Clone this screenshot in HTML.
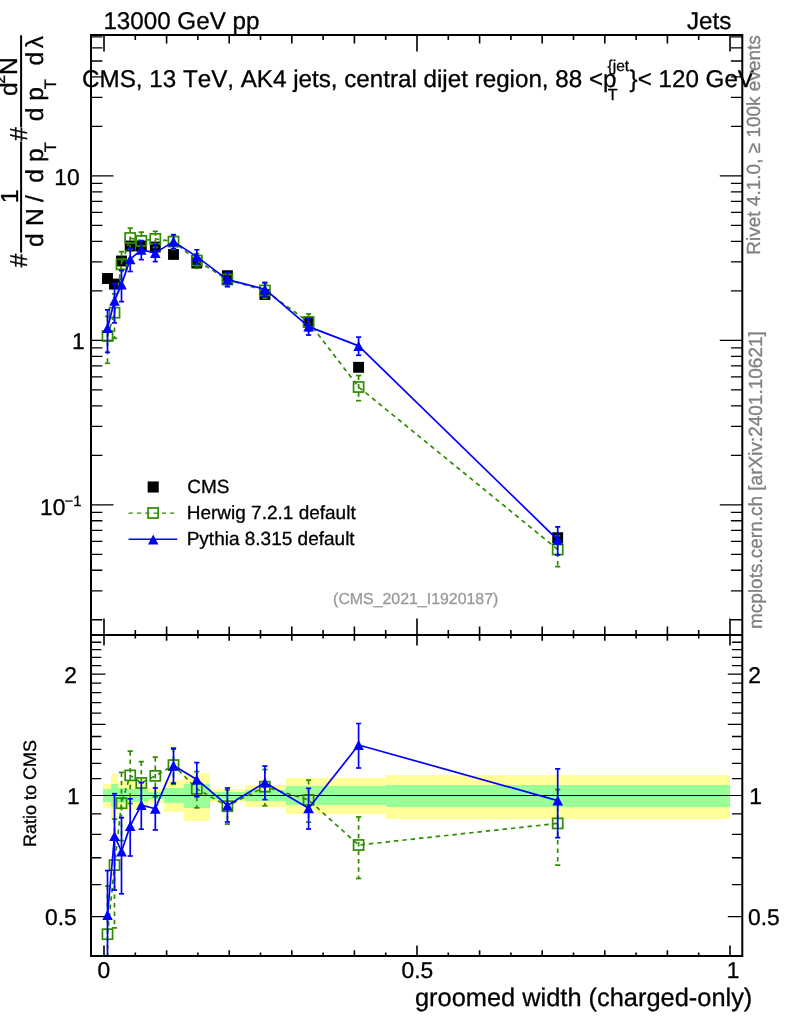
<!DOCTYPE html>
<html lang="en"><head><meta charset="utf-8"><title>groomed width (charged-only)</title>
<style>html,body{margin:0;padding:0;background:#fff}svg{display:block}text{white-space:pre;font-kerning:none;font-variant-ligatures:none;text-rendering:geometricPrecision}</style></head>
<body>
<svg width="786" height="1024" viewBox="0 0 786 1024">
<rect width="786" height="1024" fill="#fff"/>
<defs><clipPath id="cm"><rect x="91.0" y="35.0" width="651.3" height="600.0"/></clipPath><clipPath id="cr"><rect x="91.0" y="635.0" width="651.3" height="321.0"/></clipPath></defs>
<g clip-path="url(#cr)" shape-rendering="crispEdges">
<rect x="103.2" y="783.6" width="7.7" height="24.3" fill="#ffff99"/>
<rect x="110.9" y="773.9" width="6.9" height="45.9" fill="#ffff99"/>
<rect x="117.8" y="782.3" width="7.5" height="27.2" fill="#ffff99"/>
<rect x="125.3" y="782.3" width="10.0" height="27.2" fill="#ffff99"/>
<rect x="135.3" y="783.2" width="12.5" height="25.2" fill="#ffff99"/>
<rect x="147.8" y="788.2" width="15.7" height="14.6" fill="#ffff99"/>
<rect x="163.5" y="780.0" width="20.0" height="32.2" fill="#ffff99"/>
<rect x="183.5" y="773.0" width="26.9" height="48.0" fill="#ffff99"/>
<rect x="210.4" y="789.2" width="34.4" height="12.5" fill="#ffff99"/>
<rect x="244.8" y="784.6" width="40.7" height="22.2" fill="#ffff99"/>
<rect x="285.5" y="778.2" width="47.0" height="36.2" fill="#ffff99"/>
<rect x="332.5" y="778.2" width="53.2" height="36.2" fill="#ffff99"/>
<rect x="385.7" y="774.6" width="344.3" height="44.3" fill="#ffff99"/>
<rect x="103.2" y="789.2" width="7.7" height="12.5" fill="#99ff99"/>
<rect x="110.9" y="784.4" width="6.9" height="22.6" fill="#99ff99"/>
<rect x="117.8" y="788.4" width="7.5" height="14.2" fill="#99ff99"/>
<rect x="125.3" y="788.6" width="10.0" height="13.8" fill="#99ff99"/>
<rect x="135.3" y="788.8" width="12.5" height="13.4" fill="#99ff99"/>
<rect x="147.8" y="791.5" width="15.7" height="7.8" fill="#99ff99"/>
<rect x="163.5" y="787.7" width="20.0" height="15.6" fill="#99ff99"/>
<rect x="183.5" y="783.9" width="26.9" height="23.7" fill="#99ff99"/>
<rect x="210.4" y="792.1" width="34.4" height="6.6" fill="#99ff99"/>
<rect x="244.8" y="789.7" width="40.7" height="11.5" fill="#99ff99"/>
<rect x="285.5" y="786.2" width="47.0" height="18.8" fill="#99ff99"/>
<rect x="332.5" y="786.2" width="53.2" height="18.8" fill="#99ff99"/>
<rect x="385.7" y="784.8" width="344.3" height="21.8" fill="#99ff99"/>
</g>
<line x1="91.0" x2="742.3" y1="795.5" y2="795.5" stroke="#000" stroke-width="1.2"/>
<path d="M91.00 619.75H102.40M742.30 619.75H730.90M91.00 590.79H102.40M742.30 590.79H730.90M91.00 570.25H102.40M742.30 570.25H730.90M91.00 554.31H102.40M742.30 554.31H730.90M91.00 541.29H102.40M742.30 541.29H730.90M91.00 530.28H102.40M742.30 530.28H730.90M91.00 520.75H102.40M742.30 520.75H730.90M91.00 512.33H102.40M742.30 512.33H730.90M91.00 504.81H113.50M742.30 504.81H719.80M91.00 455.31H102.40M742.30 455.31H730.90M91.00 426.35H102.40M742.30 426.35H730.90M91.00 405.81H102.40M742.30 405.81H730.90M91.00 389.87H102.40M742.30 389.87H730.90M91.00 376.85H102.40M742.30 376.85H730.90M91.00 365.84H102.40M742.30 365.84H730.90M91.00 356.31H102.40M742.30 356.31H730.90M91.00 347.89H102.40M742.30 347.89H730.90M91.00 340.37H113.50M742.30 340.37H719.80M91.00 290.87H102.40M742.30 290.87H730.90M91.00 261.91H102.40M742.30 261.91H730.90M91.00 241.37H102.40M742.30 241.37H730.90M91.00 225.43H102.40M742.30 225.43H730.90M91.00 212.41H102.40M742.30 212.41H730.90M91.00 201.40H102.40M742.30 201.40H730.90M91.00 191.87H102.40M742.30 191.87H730.90M91.00 183.45H102.40M742.30 183.45H730.90M91.00 175.93H113.50M742.30 175.93H719.80M91.00 126.43H102.40M742.30 126.43H730.90M91.00 97.47H102.40M742.30 97.47H730.90M91.00 76.93H102.40M742.30 76.93H730.90M91.00 60.99H102.40M742.30 60.99H730.90M91.00 47.97H102.40M742.30 47.97H730.90M91.00 36.96H102.40M742.30 36.96H730.90M91.00 916.57H105.50M742.30 916.57H727.80M91.00 884.69H101.30M742.30 884.69H732.00M91.00 857.73H101.30M742.30 857.73H732.00M91.00 834.38H101.30M742.30 834.38H732.00M91.00 813.78H101.30M742.30 813.78H732.00M91.00 778.68H101.30M742.30 778.68H732.00M91.00 763.46H101.30M742.30 763.46H732.00M91.00 749.47H101.30M742.30 749.47H732.00M91.00 736.50H101.30M742.30 736.50H732.00M91.00 724.44H105.50M742.30 724.44H727.80M91.00 713.15H101.30M742.30 713.15H732.00M91.00 702.55H101.30M742.30 702.55H732.00M91.00 692.55H101.30M742.30 692.55H732.00M91.00 683.10H101.30M742.30 683.10H732.00M91.00 674.13H105.50M742.30 674.13H727.80M91.00 665.59H101.30M742.30 665.59H732.00M91.00 657.46H101.30M742.30 657.46H732.00M91.00 649.68H101.30M742.30 649.68H732.00M91.00 642.24H101.30M742.30 642.24H732.00" stroke="#000" stroke-width="1.3" fill="none"/>
<path d="M104.00 36.00V51.50M104.00 634.00V618.50M104.00 636.00V645.50M104.00 955.00V945.50M135.30 36.00V40.00M135.30 634.00V630.00M135.30 636.00V638.60M135.30 955.00V952.40M166.60 36.00V43.50M166.60 634.00V626.50M166.60 636.00V640.80M166.60 955.00V950.20M197.90 36.00V40.00M197.90 634.00V630.00M197.90 636.00V638.60M197.90 955.00V952.40M229.20 36.00V43.50M229.20 634.00V626.50M229.20 636.00V640.80M229.20 955.00V950.20M260.50 36.00V40.00M260.50 634.00V630.00M260.50 636.00V638.60M260.50 955.00V952.40M291.80 36.00V43.50M291.80 634.00V626.50M291.80 636.00V640.80M291.80 955.00V950.20M323.10 36.00V40.00M323.10 634.00V630.00M323.10 636.00V638.60M323.10 955.00V952.40M354.40 36.00V43.50M354.40 634.00V626.50M354.40 636.00V640.80M354.40 955.00V950.20M385.70 36.00V40.00M385.70 634.00V630.00M385.70 636.00V638.60M385.70 955.00V952.40M417.00 36.00V51.50M417.00 634.00V618.50M417.00 636.00V645.50M417.00 955.00V945.50M448.30 36.00V40.00M448.30 634.00V630.00M448.30 636.00V638.60M448.30 955.00V952.40M479.60 36.00V43.50M479.60 634.00V626.50M479.60 636.00V640.80M479.60 955.00V950.20M510.90 36.00V40.00M510.90 634.00V630.00M510.90 636.00V638.60M510.90 955.00V952.40M542.20 36.00V43.50M542.20 634.00V626.50M542.20 636.00V640.80M542.20 955.00V950.20M573.50 36.00V40.00M573.50 634.00V630.00M573.50 636.00V638.60M573.50 955.00V952.40M604.80 36.00V43.50M604.80 634.00V626.50M604.80 636.00V640.80M604.80 955.00V950.20M636.10 36.00V40.00M636.10 634.00V630.00M636.10 636.00V638.60M636.10 955.00V952.40M667.40 36.00V43.50M667.40 634.00V626.50M667.40 636.00V640.80M667.40 955.00V950.20M698.70 36.00V40.00M698.70 634.00V630.00M698.70 636.00V638.60M698.70 955.00V952.40M730.00 36.00V51.50M730.00 634.00V618.50M730.00 636.00V645.50M730.00 955.00V945.50" stroke="#000" stroke-width="1.6" fill="none"/>
<g clip-path="url(#cm)">
<rect x="102.05" y="273.05" width="10.9" height="10.9" fill="#000"/>
<rect x="109.05" y="278.65" width="10.9" height="10.9" fill="#000"/>
<rect x="116.05" y="255.55" width="10.9" height="10.9" fill="#000"/>
<rect x="124.75" y="240.55" width="10.9" height="10.9" fill="#000"/>
<rect x="135.85" y="240.55" width="10.9" height="10.9" fill="#000"/>
<rect x="149.85" y="241.55" width="10.9" height="10.9" fill="#000"/>
<rect x="168.05" y="248.95" width="10.9" height="10.9" fill="#000"/>
<rect x="191.35" y="257.55" width="10.9" height="10.9" fill="#000"/>
<rect x="221.95" y="270.25" width="10.9" height="10.9" fill="#000"/>
<rect x="259.45" y="289.05" width="10.9" height="10.9" fill="#000"/>
<rect x="303.15" y="316.75" width="10.9" height="10.9" fill="#000"/>
<rect x="353.15" y="361.85" width="10.9" height="10.9" fill="#000"/>
<rect x="552.25" y="532.25" width="10.9" height="10.9" fill="#000"/>
<polyline points="107.50,336.00 114.50,312.70 121.50,264.30 130.20,238.00 141.30,240.90 155.30,238.90 173.50,241.60 196.80,260.50 227.40,279.50 264.90,290.50 308.60,322.00 358.60,387.00 557.70,549.50" fill="none" stroke="#2f8c00" stroke-width="1.7" stroke-linejoin="round" stroke-dasharray="4.5 3.9"/>
<line x1="107.50" x2="107.50" y1="316.32" y2="363.26" stroke="#2f8c00" stroke-width="1.7" stroke-dasharray="4.5 3.9"/><line x1="104.90" x2="110.10" y1="316.32" y2="316.32" stroke="#2f8c00" stroke-width="1.7"/><line x1="104.90" x2="110.10" y1="363.26" y2="363.26" stroke="#2f8c00" stroke-width="1.7"/>
<line x1="114.50" x2="114.50" y1="293.88" y2="338.34" stroke="#2f8c00" stroke-width="1.7" stroke-dasharray="4.5 3.9"/><line x1="111.90" x2="117.10" y1="293.88" y2="293.88" stroke="#2f8c00" stroke-width="1.7"/><line x1="111.90" x2="117.10" y1="338.34" y2="338.34" stroke="#2f8c00" stroke-width="1.7"/>
<line x1="121.50" x2="121.50" y1="251.72" y2="279.58" stroke="#2f8c00" stroke-width="1.7" stroke-dasharray="4.5 3.9"/><line x1="118.90" x2="124.10" y1="251.72" y2="251.72" stroke="#2f8c00" stroke-width="1.7"/><line x1="118.90" x2="124.10" y1="279.58" y2="279.58" stroke="#2f8c00" stroke-width="1.7"/>
<line x1="130.20" x2="130.20" y1="228.12" y2="249.47" stroke="#2f8c00" stroke-width="1.7" stroke-dasharray="4.5 3.9"/><line x1="127.60" x2="132.80" y1="228.12" y2="228.12" stroke="#2f8c00" stroke-width="1.7"/><line x1="127.60" x2="132.80" y1="249.47" y2="249.47" stroke="#2f8c00" stroke-width="1.7"/>
<line x1="141.30" x2="141.30" y1="232.16" y2="250.86" stroke="#2f8c00" stroke-width="1.7" stroke-dasharray="4.5 3.9"/><line x1="138.70" x2="143.90" y1="232.16" y2="232.16" stroke="#2f8c00" stroke-width="1.7"/><line x1="138.70" x2="143.90" y1="250.86" y2="250.86" stroke="#2f8c00" stroke-width="1.7"/>
<line x1="155.30" x2="155.30" y1="231.26" y2="247.45" stroke="#2f8c00" stroke-width="1.7" stroke-dasharray="4.5 3.9"/><line x1="152.70" x2="157.90" y1="231.26" y2="231.26" stroke="#2f8c00" stroke-width="1.7"/><line x1="152.70" x2="157.90" y1="247.45" y2="247.45" stroke="#2f8c00" stroke-width="1.7"/>
<line x1="173.50" x2="173.50" y1="234.54" y2="249.44" stroke="#2f8c00" stroke-width="1.7" stroke-dasharray="4.5 3.9"/><line x1="170.90" x2="176.10" y1="234.54" y2="234.54" stroke="#2f8c00" stroke-width="1.7"/><line x1="170.90" x2="176.10" y1="249.44" y2="249.44" stroke="#2f8c00" stroke-width="1.7"/>
<line x1="196.80" x2="196.80" y1="253.48" y2="268.29" stroke="#2f8c00" stroke-width="1.7" stroke-dasharray="4.5 3.9"/><line x1="194.20" x2="199.40" y1="253.48" y2="253.48" stroke="#2f8c00" stroke-width="1.7"/><line x1="194.20" x2="199.40" y1="268.29" y2="268.29" stroke="#2f8c00" stroke-width="1.7"/>
<line x1="227.40" x2="227.40" y1="272.88" y2="286.79" stroke="#2f8c00" stroke-width="1.7" stroke-dasharray="4.5 3.9"/><line x1="224.80" x2="230.00" y1="272.88" y2="272.88" stroke="#2f8c00" stroke-width="1.7"/><line x1="224.80" x2="230.00" y1="286.79" y2="286.79" stroke="#2f8c00" stroke-width="1.7"/>
<line x1="264.90" x2="264.90" y1="283.48" y2="298.29" stroke="#2f8c00" stroke-width="1.7" stroke-dasharray="4.5 3.9"/><line x1="262.30" x2="267.50" y1="283.48" y2="283.48" stroke="#2f8c00" stroke-width="1.7"/><line x1="262.30" x2="267.50" y1="298.29" y2="298.29" stroke="#2f8c00" stroke-width="1.7"/>
<line x1="308.60" x2="308.60" y1="313.91" y2="331.12" stroke="#2f8c00" stroke-width="1.7" stroke-dasharray="4.5 3.9"/><line x1="306.00" x2="311.20" y1="313.91" y2="313.91" stroke="#2f8c00" stroke-width="1.7"/><line x1="306.00" x2="311.20" y1="331.12" y2="331.12" stroke="#2f8c00" stroke-width="1.7"/>
<line x1="358.60" x2="358.60" y1="375.53" y2="400.68" stroke="#2f8c00" stroke-width="1.7" stroke-dasharray="4.5 3.9"/><line x1="356.00" x2="361.20" y1="375.53" y2="375.53" stroke="#2f8c00" stroke-width="1.7"/><line x1="356.00" x2="361.20" y1="400.68" y2="400.68" stroke="#2f8c00" stroke-width="1.7"/>
<line x1="557.70" x2="557.70" y1="535.74" y2="566.56" stroke="#2f8c00" stroke-width="1.7" stroke-dasharray="4.5 3.9"/><line x1="555.10" x2="560.30" y1="535.74" y2="535.74" stroke="#2f8c00" stroke-width="1.7"/><line x1="555.10" x2="560.30" y1="566.56" y2="566.56" stroke="#2f8c00" stroke-width="1.7"/>
<rect x="102.45" y="330.95" width="10.1" height="10.1" fill="none" stroke="#2f8c00" stroke-width="1.7"/>
<rect x="109.45" y="307.65" width="10.1" height="10.1" fill="none" stroke="#2f8c00" stroke-width="1.7"/>
<rect x="116.45" y="259.25" width="10.1" height="10.1" fill="none" stroke="#2f8c00" stroke-width="1.7"/>
<rect x="125.15" y="232.95" width="10.1" height="10.1" fill="none" stroke="#2f8c00" stroke-width="1.7"/>
<rect x="136.25" y="235.85" width="10.1" height="10.1" fill="none" stroke="#2f8c00" stroke-width="1.7"/>
<rect x="150.25" y="233.85" width="10.1" height="10.1" fill="none" stroke="#2f8c00" stroke-width="1.7"/>
<rect x="168.45" y="236.55" width="10.1" height="10.1" fill="none" stroke="#2f8c00" stroke-width="1.7"/>
<rect x="191.75" y="255.45" width="10.1" height="10.1" fill="none" stroke="#2f8c00" stroke-width="1.7"/>
<rect x="222.35" y="274.45" width="10.1" height="10.1" fill="none" stroke="#2f8c00" stroke-width="1.7"/>
<rect x="259.85" y="285.45" width="10.1" height="10.1" fill="none" stroke="#2f8c00" stroke-width="1.7"/>
<rect x="303.55" y="316.95" width="10.1" height="10.1" fill="none" stroke="#2f8c00" stroke-width="1.7"/>
<rect x="353.55" y="381.95" width="10.1" height="10.1" fill="none" stroke="#2f8c00" stroke-width="1.7"/>
<rect x="552.65" y="544.45" width="10.1" height="10.1" fill="none" stroke="#2f8c00" stroke-width="1.7"/>
<polyline points="107.50,328.00 114.50,300.80 121.50,284.40 130.20,259.20 141.30,249.80 155.30,252.90 173.50,241.60 196.80,256.60 227.40,279.60 264.90,289.20 308.60,326.60 358.60,345.90 557.70,539.80" fill="none" stroke="#0000ff" stroke-width="1.7" stroke-linejoin="round"/>
<line x1="107.50" x2="107.50" y1="309.87" y2="352.34" stroke="#0000ff" stroke-width="1.7"/><line x1="104.90" x2="110.10" y1="309.87" y2="309.87" stroke="#0000ff" stroke-width="1.7"/><line x1="104.90" x2="110.10" y1="352.34" y2="352.34" stroke="#0000ff" stroke-width="1.7"/>
<line x1="114.50" x2="114.50" y1="283.53" y2="322.85" stroke="#0000ff" stroke-width="1.7"/><line x1="111.90" x2="117.10" y1="283.53" y2="283.53" stroke="#0000ff" stroke-width="1.7"/><line x1="111.90" x2="117.10" y1="322.85" y2="322.85" stroke="#0000ff" stroke-width="1.7"/>
<line x1="121.50" x2="121.50" y1="270.60" y2="301.67" stroke="#0000ff" stroke-width="1.7"/><line x1="118.90" x2="124.10" y1="270.60" y2="270.60" stroke="#0000ff" stroke-width="1.7"/><line x1="118.90" x2="124.10" y1="301.67" y2="301.67" stroke="#0000ff" stroke-width="1.7"/>
<line x1="130.20" x2="130.20" y1="248.13" y2="271.49" stroke="#0000ff" stroke-width="1.7"/><line x1="127.60" x2="132.80" y1="248.13" y2="248.13" stroke="#0000ff" stroke-width="1.7"/><line x1="127.60" x2="132.80" y1="271.49" y2="271.49" stroke="#0000ff" stroke-width="1.7"/>
<line x1="141.30" x2="141.30" y1="240.65" y2="259.64" stroke="#0000ff" stroke-width="1.7"/><line x1="138.70" x2="143.90" y1="240.65" y2="240.65" stroke="#0000ff" stroke-width="1.7"/><line x1="138.70" x2="143.90" y1="259.64" y2="259.64" stroke="#0000ff" stroke-width="1.7"/>
<line x1="155.30" x2="155.30" y1="244.41" y2="261.60" stroke="#0000ff" stroke-width="1.7"/><line x1="152.70" x2="157.90" y1="244.41" y2="244.41" stroke="#0000ff" stroke-width="1.7"/><line x1="152.70" x2="157.90" y1="261.60" y2="261.60" stroke="#0000ff" stroke-width="1.7"/>
<line x1="173.50" x2="173.50" y1="234.74" y2="248.75" stroke="#0000ff" stroke-width="1.7"/><line x1="170.90" x2="176.10" y1="234.74" y2="234.74" stroke="#0000ff" stroke-width="1.7"/><line x1="170.90" x2="176.10" y1="248.75" y2="248.75" stroke="#0000ff" stroke-width="1.7"/>
<line x1="196.80" x2="196.80" y1="249.74" y2="263.66" stroke="#0000ff" stroke-width="1.7"/><line x1="194.20" x2="199.40" y1="249.74" y2="249.74" stroke="#0000ff" stroke-width="1.7"/><line x1="194.20" x2="199.40" y1="263.66" y2="263.66" stroke="#0000ff" stroke-width="1.7"/>
<line x1="227.40" x2="227.40" y1="272.49" y2="286.38" stroke="#0000ff" stroke-width="1.7"/><line x1="224.80" x2="230.00" y1="272.49" y2="272.49" stroke="#0000ff" stroke-width="1.7"/><line x1="224.80" x2="230.00" y1="286.38" y2="286.38" stroke="#0000ff" stroke-width="1.7"/>
<line x1="264.90" x2="264.90" y1="282.42" y2="296.14" stroke="#0000ff" stroke-width="1.7"/><line x1="262.30" x2="267.50" y1="282.42" y2="282.42" stroke="#0000ff" stroke-width="1.7"/><line x1="262.30" x2="267.50" y1="296.14" y2="296.14" stroke="#0000ff" stroke-width="1.7"/>
<line x1="308.60" x2="308.60" y1="318.43" y2="335.05" stroke="#0000ff" stroke-width="1.7"/><line x1="306.00" x2="311.20" y1="318.43" y2="318.43" stroke="#0000ff" stroke-width="1.7"/><line x1="306.00" x2="311.20" y1="335.05" y2="335.05" stroke="#0000ff" stroke-width="1.7"/>
<line x1="358.60" x2="358.60" y1="337.12" y2="355.29" stroke="#0000ff" stroke-width="1.7"/><line x1="356.00" x2="361.20" y1="337.12" y2="337.12" stroke="#0000ff" stroke-width="1.7"/><line x1="356.00" x2="361.20" y1="355.29" y2="355.29" stroke="#0000ff" stroke-width="1.7"/>
<line x1="557.70" x2="557.70" y1="526.86" y2="554.95" stroke="#0000ff" stroke-width="1.7"/><line x1="555.10" x2="560.30" y1="526.86" y2="526.86" stroke="#0000ff" stroke-width="1.7"/><line x1="555.10" x2="560.30" y1="554.95" y2="554.95" stroke="#0000ff" stroke-width="1.7"/>
<path d="M102.20 333.00L112.80 333.00L107.50 323.00Z" fill="#0000ff"/>
<path d="M109.20 305.80L119.80 305.80L114.50 295.80Z" fill="#0000ff"/>
<path d="M116.20 289.40L126.80 289.40L121.50 279.40Z" fill="#0000ff"/>
<path d="M124.90 264.20L135.50 264.20L130.20 254.20Z" fill="#0000ff"/>
<path d="M136.00 254.80L146.60 254.80L141.30 244.80Z" fill="#0000ff"/>
<path d="M150.00 257.90L160.60 257.90L155.30 247.90Z" fill="#0000ff"/>
<path d="M168.20 246.60L178.80 246.60L173.50 236.60Z" fill="#0000ff"/>
<path d="M191.50 261.60L202.10 261.60L196.80 251.60Z" fill="#0000ff"/>
<path d="M222.10 284.60L232.70 284.60L227.40 274.60Z" fill="#0000ff"/>
<path d="M259.60 294.20L270.20 294.20L264.90 284.20Z" fill="#0000ff"/>
<path d="M303.30 331.60L313.90 331.60L308.60 321.60Z" fill="#0000ff"/>
<path d="M353.30 350.90L363.90 350.90L358.60 340.90Z" fill="#0000ff"/>
<path d="M552.40 544.80L563.00 544.80L557.70 534.80Z" fill="#0000ff"/>
</g>
<g clip-path="url(#cr)">
<polyline points="107.50,934.20 114.50,865.10 121.50,803.20 130.20,775.40 141.30,783.00 155.30,775.90 173.50,765.10 196.80,788.80 227.40,806.20 264.90,786.70 308.60,799.90 358.60,845.00 557.70,823.40" fill="none" stroke="#2f8c00" stroke-width="1.7" stroke-linejoin="round" stroke-dasharray="4.5 3.9"/>
<line x1="107.50" x2="107.50" y1="886.00" y2="1000.96" stroke="#2f8c00" stroke-width="1.7" stroke-dasharray="4.5 3.9"/><line x1="104.90" x2="110.10" y1="886.00" y2="886.00" stroke="#2f8c00" stroke-width="1.7"/><line x1="104.90" x2="110.10" y1="1000.96" y2="1000.96" stroke="#2f8c00" stroke-width="1.7"/>
<line x1="114.50" x2="114.50" y1="819.00" y2="927.88" stroke="#2f8c00" stroke-width="1.7" stroke-dasharray="4.5 3.9"/><line x1="111.90" x2="117.10" y1="819.00" y2="819.00" stroke="#2f8c00" stroke-width="1.7"/><line x1="111.90" x2="117.10" y1="927.88" y2="927.88" stroke="#2f8c00" stroke-width="1.7"/>
<line x1="121.50" x2="121.50" y1="772.40" y2="840.61" stroke="#2f8c00" stroke-width="1.7" stroke-dasharray="4.5 3.9"/><line x1="118.90" x2="124.10" y1="772.40" y2="772.40" stroke="#2f8c00" stroke-width="1.7"/><line x1="118.90" x2="124.10" y1="840.61" y2="840.61" stroke="#2f8c00" stroke-width="1.7"/>
<line x1="130.20" x2="130.20" y1="751.20" y2="803.49" stroke="#2f8c00" stroke-width="1.7" stroke-dasharray="4.5 3.9"/><line x1="127.60" x2="132.80" y1="751.20" y2="751.20" stroke="#2f8c00" stroke-width="1.7"/><line x1="127.60" x2="132.80" y1="803.49" y2="803.49" stroke="#2f8c00" stroke-width="1.7"/>
<line x1="141.30" x2="141.30" y1="761.60" y2="807.39" stroke="#2f8c00" stroke-width="1.7" stroke-dasharray="4.5 3.9"/><line x1="138.70" x2="143.90" y1="761.60" y2="761.60" stroke="#2f8c00" stroke-width="1.7"/><line x1="138.70" x2="143.90" y1="807.39" y2="807.39" stroke="#2f8c00" stroke-width="1.7"/>
<line x1="155.30" x2="155.30" y1="757.20" y2="796.84" stroke="#2f8c00" stroke-width="1.7" stroke-dasharray="4.5 3.9"/><line x1="152.70" x2="157.90" y1="757.20" y2="757.20" stroke="#2f8c00" stroke-width="1.7"/><line x1="152.70" x2="157.90" y1="796.84" y2="796.84" stroke="#2f8c00" stroke-width="1.7"/>
<line x1="173.50" x2="173.50" y1="747.80" y2="784.30" stroke="#2f8c00" stroke-width="1.7" stroke-dasharray="4.5 3.9"/><line x1="170.90" x2="176.10" y1="747.80" y2="747.80" stroke="#2f8c00" stroke-width="1.7"/><line x1="170.90" x2="176.10" y1="784.30" y2="784.30" stroke="#2f8c00" stroke-width="1.7"/>
<line x1="196.80" x2="196.80" y1="771.60" y2="807.88" stroke="#2f8c00" stroke-width="1.7" stroke-dasharray="4.5 3.9"/><line x1="194.20" x2="199.40" y1="771.60" y2="771.60" stroke="#2f8c00" stroke-width="1.7"/><line x1="194.20" x2="199.40" y1="807.88" y2="807.88" stroke="#2f8c00" stroke-width="1.7"/>
<line x1="227.40" x2="227.40" y1="790.00" y2="824.06" stroke="#2f8c00" stroke-width="1.7" stroke-dasharray="4.5 3.9"/><line x1="224.80" x2="230.00" y1="790.00" y2="790.00" stroke="#2f8c00" stroke-width="1.7"/><line x1="224.80" x2="230.00" y1="824.06" y2="824.06" stroke="#2f8c00" stroke-width="1.7"/>
<line x1="264.90" x2="264.90" y1="769.50" y2="805.78" stroke="#2f8c00" stroke-width="1.7" stroke-dasharray="4.5 3.9"/><line x1="262.30" x2="267.50" y1="769.50" y2="769.50" stroke="#2f8c00" stroke-width="1.7"/><line x1="262.30" x2="267.50" y1="805.78" y2="805.78" stroke="#2f8c00" stroke-width="1.7"/>
<line x1="308.60" x2="308.60" y1="780.10" y2="822.23" stroke="#2f8c00" stroke-width="1.7" stroke-dasharray="4.5 3.9"/><line x1="306.00" x2="311.20" y1="780.10" y2="780.10" stroke="#2f8c00" stroke-width="1.7"/><line x1="306.00" x2="311.20" y1="822.23" y2="822.23" stroke="#2f8c00" stroke-width="1.7"/>
<line x1="358.60" x2="358.60" y1="816.90" y2="878.50" stroke="#2f8c00" stroke-width="1.7" stroke-dasharray="4.5 3.9"/><line x1="356.00" x2="361.20" y1="816.90" y2="816.90" stroke="#2f8c00" stroke-width="1.7"/><line x1="356.00" x2="361.20" y1="878.50" y2="878.50" stroke="#2f8c00" stroke-width="1.7"/>
<line x1="557.70" x2="557.70" y1="789.70" y2="865.18" stroke="#2f8c00" stroke-width="1.7" stroke-dasharray="4.5 3.9"/><line x1="555.10" x2="560.30" y1="789.70" y2="789.70" stroke="#2f8c00" stroke-width="1.7"/><line x1="555.10" x2="560.30" y1="865.18" y2="865.18" stroke="#2f8c00" stroke-width="1.7"/>
<rect x="102.45" y="929.15" width="10.1" height="10.1" fill="none" stroke="#2f8c00" stroke-width="1.7"/>
<rect x="109.45" y="860.05" width="10.1" height="10.1" fill="none" stroke="#2f8c00" stroke-width="1.7"/>
<rect x="116.45" y="798.15" width="10.1" height="10.1" fill="none" stroke="#2f8c00" stroke-width="1.7"/>
<rect x="125.15" y="770.35" width="10.1" height="10.1" fill="none" stroke="#2f8c00" stroke-width="1.7"/>
<rect x="136.25" y="777.95" width="10.1" height="10.1" fill="none" stroke="#2f8c00" stroke-width="1.7"/>
<rect x="150.25" y="770.85" width="10.1" height="10.1" fill="none" stroke="#2f8c00" stroke-width="1.7"/>
<rect x="168.45" y="760.05" width="10.1" height="10.1" fill="none" stroke="#2f8c00" stroke-width="1.7"/>
<rect x="191.75" y="783.75" width="10.1" height="10.1" fill="none" stroke="#2f8c00" stroke-width="1.7"/>
<rect x="222.35" y="801.15" width="10.1" height="10.1" fill="none" stroke="#2f8c00" stroke-width="1.7"/>
<rect x="259.85" y="781.65" width="10.1" height="10.1" fill="none" stroke="#2f8c00" stroke-width="1.7"/>
<rect x="303.55" y="794.85" width="10.1" height="10.1" fill="none" stroke="#2f8c00" stroke-width="1.7"/>
<rect x="353.55" y="839.95" width="10.1" height="10.1" fill="none" stroke="#2f8c00" stroke-width="1.7"/>
<rect x="552.65" y="818.35" width="10.1" height="10.1" fill="none" stroke="#2f8c00" stroke-width="1.7"/>
<polyline points="107.50,915.00 114.50,836.00 121.50,851.50 130.20,825.90 141.30,805.10 155.30,808.70 173.50,765.60 196.80,779.40 227.40,805.40 264.90,782.60 308.60,808.30 358.60,745.00 557.70,800.60" fill="none" stroke="#0000ff" stroke-width="1.7" stroke-linejoin="round"/>
<line x1="107.50" x2="107.50" y1="870.60" y2="974.60" stroke="#0000ff" stroke-width="1.7"/><line x1="104.90" x2="110.10" y1="870.60" y2="870.60" stroke="#0000ff" stroke-width="1.7"/><line x1="104.90" x2="110.10" y1="974.60" y2="974.60" stroke="#0000ff" stroke-width="1.7"/>
<line x1="114.50" x2="114.50" y1="793.70" y2="890.00" stroke="#0000ff" stroke-width="1.7"/><line x1="111.90" x2="117.10" y1="793.70" y2="793.70" stroke="#0000ff" stroke-width="1.7"/><line x1="111.90" x2="117.10" y1="890.00" y2="890.00" stroke="#0000ff" stroke-width="1.7"/>
<line x1="121.50" x2="121.50" y1="817.70" y2="893.80" stroke="#0000ff" stroke-width="1.7"/><line x1="118.90" x2="124.10" y1="817.70" y2="817.70" stroke="#0000ff" stroke-width="1.7"/><line x1="118.90" x2="124.10" y1="893.80" y2="893.80" stroke="#0000ff" stroke-width="1.7"/>
<line x1="130.20" x2="130.20" y1="798.80" y2="856.00" stroke="#0000ff" stroke-width="1.7"/><line x1="127.60" x2="132.80" y1="798.80" y2="798.80" stroke="#0000ff" stroke-width="1.7"/><line x1="127.60" x2="132.80" y1="856.00" y2="856.00" stroke="#0000ff" stroke-width="1.7"/>
<line x1="141.30" x2="141.30" y1="782.70" y2="829.20" stroke="#0000ff" stroke-width="1.7"/><line x1="138.70" x2="143.90" y1="782.70" y2="782.70" stroke="#0000ff" stroke-width="1.7"/><line x1="138.70" x2="143.90" y1="829.20" y2="829.20" stroke="#0000ff" stroke-width="1.7"/>
<line x1="155.30" x2="155.30" y1="787.90" y2="830.00" stroke="#0000ff" stroke-width="1.7"/><line x1="152.70" x2="157.90" y1="787.90" y2="787.90" stroke="#0000ff" stroke-width="1.7"/><line x1="152.70" x2="157.90" y1="830.00" y2="830.00" stroke="#0000ff" stroke-width="1.7"/>
<line x1="173.50" x2="173.50" y1="748.80" y2="783.10" stroke="#0000ff" stroke-width="1.7"/><line x1="170.90" x2="176.10" y1="748.80" y2="748.80" stroke="#0000ff" stroke-width="1.7"/><line x1="170.90" x2="176.10" y1="783.10" y2="783.10" stroke="#0000ff" stroke-width="1.7"/>
<line x1="196.80" x2="196.80" y1="762.60" y2="796.70" stroke="#0000ff" stroke-width="1.7"/><line x1="194.20" x2="199.40" y1="762.60" y2="762.60" stroke="#0000ff" stroke-width="1.7"/><line x1="194.20" x2="199.40" y1="796.70" y2="796.70" stroke="#0000ff" stroke-width="1.7"/>
<line x1="227.40" x2="227.40" y1="788.00" y2="822.00" stroke="#0000ff" stroke-width="1.7"/><line x1="224.80" x2="230.00" y1="788.00" y2="788.00" stroke="#0000ff" stroke-width="1.7"/><line x1="224.80" x2="230.00" y1="822.00" y2="822.00" stroke="#0000ff" stroke-width="1.7"/>
<line x1="264.90" x2="264.90" y1="766.00" y2="799.60" stroke="#0000ff" stroke-width="1.7"/><line x1="262.30" x2="267.50" y1="766.00" y2="766.00" stroke="#0000ff" stroke-width="1.7"/><line x1="262.30" x2="267.50" y1="799.60" y2="799.60" stroke="#0000ff" stroke-width="1.7"/>
<line x1="308.60" x2="308.60" y1="788.30" y2="829.00" stroke="#0000ff" stroke-width="1.7"/><line x1="306.00" x2="311.20" y1="788.30" y2="788.30" stroke="#0000ff" stroke-width="1.7"/><line x1="306.00" x2="311.20" y1="829.00" y2="829.00" stroke="#0000ff" stroke-width="1.7"/>
<line x1="358.60" x2="358.60" y1="723.50" y2="768.00" stroke="#0000ff" stroke-width="1.7"/><line x1="356.00" x2="361.20" y1="723.50" y2="723.50" stroke="#0000ff" stroke-width="1.7"/><line x1="356.00" x2="361.20" y1="768.00" y2="768.00" stroke="#0000ff" stroke-width="1.7"/>
<line x1="557.70" x2="557.70" y1="768.90" y2="837.70" stroke="#0000ff" stroke-width="1.7"/><line x1="555.10" x2="560.30" y1="768.90" y2="768.90" stroke="#0000ff" stroke-width="1.7"/><line x1="555.10" x2="560.30" y1="837.70" y2="837.70" stroke="#0000ff" stroke-width="1.7"/>
<path d="M102.20 920.00L112.80 920.00L107.50 910.00Z" fill="#0000ff"/>
<path d="M109.20 841.00L119.80 841.00L114.50 831.00Z" fill="#0000ff"/>
<path d="M116.20 856.50L126.80 856.50L121.50 846.50Z" fill="#0000ff"/>
<path d="M124.90 830.90L135.50 830.90L130.20 820.90Z" fill="#0000ff"/>
<path d="M136.00 810.10L146.60 810.10L141.30 800.10Z" fill="#0000ff"/>
<path d="M150.00 813.70L160.60 813.70L155.30 803.70Z" fill="#0000ff"/>
<path d="M168.20 770.60L178.80 770.60L173.50 760.60Z" fill="#0000ff"/>
<path d="M191.50 784.40L202.10 784.40L196.80 774.40Z" fill="#0000ff"/>
<path d="M222.10 810.40L232.70 810.40L227.40 800.40Z" fill="#0000ff"/>
<path d="M259.60 787.60L270.20 787.60L264.90 777.60Z" fill="#0000ff"/>
<path d="M303.30 813.30L313.90 813.30L308.60 803.30Z" fill="#0000ff"/>
<path d="M353.30 750.00L363.90 750.00L358.60 740.00Z" fill="#0000ff"/>
<path d="M552.40 805.60L563.00 805.60L557.70 795.60Z" fill="#0000ff"/>
</g>
<rect x="91.0" y="35.0" width="651.3" height="921.0" fill="none" stroke="#000" stroke-width="2"/>
<line x1="91.0" x2="742.3" y1="635.0" y2="635.0" stroke="#000" stroke-width="2"/>
<text x="103.4" y="29.0" font-size="24.2" text-anchor="start" fill="#000" stroke="#000" stroke-width="0.3" font-family="Liberation Sans, Arial, Helvetica, sans-serif" >13000 GeV pp</text>
<text x="731.4" y="28.8" font-size="24.2" text-anchor="end" fill="#000" stroke="#000" stroke-width="0.3" font-family="Liberation Sans, Arial, Helvetica, sans-serif" >Jets</text>
<text x="82.1" y="86.6" font-size="24.2" text-anchor="start" fill="#000" stroke="#000" stroke-width="0.3" font-family="Liberation Sans, Arial, Helvetica, sans-serif" >CMS, 13 TeV, AK4 jets, central dijet region, 88 &lt;p</text>
<text x="607.6" y="70.9" font-size="15.5" text-anchor="start" fill="#000" stroke="#000" stroke-width="0.3" font-family="Liberation Sans, Arial, Helvetica, sans-serif" >{jet</text>
<text x="612.7" y="99.7" font-size="16" text-anchor="middle" fill="#000" stroke="#000" stroke-width="0.3" font-family="Liberation Sans, Arial, Helvetica, sans-serif" >T</text>
<text x="629.6" y="86.6" font-size="24.2" text-anchor="start" fill="#000" stroke="#000" stroke-width="0.3" font-family="Liberation Sans, Arial, Helvetica, sans-serif" >}&lt; 120 GeV</text>
<text x="79.6" y="185.2" font-size="22.8" text-anchor="end" fill="#000" stroke="#000" stroke-width="0.3" font-family="Liberation Sans, Arial, Helvetica, sans-serif" >10</text>
<text x="84.6" y="349.2" font-size="22.8" text-anchor="end" fill="#000" stroke="#000" stroke-width="0.3" font-family="Liberation Sans, Arial, Helvetica, sans-serif" >1</text>
<text x="65.4" y="515.2" font-size="22.8" text-anchor="end" fill="#000" stroke="#000" stroke-width="0.3" font-family="Liberation Sans, Arial, Helvetica, sans-serif" >10</text>
<text x="64.6" y="506.0" font-size="14.8" text-anchor="start" fill="#000" stroke="#000" stroke-width="0.3" font-family="Liberation Sans, Arial, Helvetica, sans-serif" >−1</text>
<text x="76.9" y="683.0" font-size="22.8" text-anchor="end" fill="#000" stroke="#000" stroke-width="0.3" font-family="Liberation Sans, Arial, Helvetica, sans-serif" >2</text>
<text x="79.6" y="804.4" font-size="22.8" text-anchor="end" fill="#000" stroke="#000" stroke-width="0.3" font-family="Liberation Sans, Arial, Helvetica, sans-serif" >1</text>
<text x="76.8" y="925.2" font-size="22.8" text-anchor="end" fill="#000" stroke="#000" stroke-width="0.3" font-family="Liberation Sans, Arial, Helvetica, sans-serif" >0.5</text>
<text x="748.2" y="683.0" font-size="22.8" text-anchor="start" fill="#000" stroke="#000" stroke-width="0.3" font-family="Liberation Sans, Arial, Helvetica, sans-serif" >2</text>
<text x="749.3" y="804.4" font-size="22.8" text-anchor="start" fill="#000" stroke="#000" stroke-width="0.3" font-family="Liberation Sans, Arial, Helvetica, sans-serif" >1</text>
<text x="748.1" y="925.2" font-size="22.8" text-anchor="start" fill="#000" stroke="#000" stroke-width="0.3" font-family="Liberation Sans, Arial, Helvetica, sans-serif" >0.5</text>
<text x="103.8" y="978.0" font-size="22.8" text-anchor="middle" fill="#000" stroke="#000" stroke-width="0.3" font-family="Liberation Sans, Arial, Helvetica, sans-serif" >0</text>
<text x="417.4" y="978.0" font-size="22.8" text-anchor="middle" fill="#000" stroke="#000" stroke-width="0.3" font-family="Liberation Sans, Arial, Helvetica, sans-serif" >0.5</text>
<text x="733.0" y="978.0" font-size="22.8" text-anchor="middle" fill="#000" stroke="#000" stroke-width="0.3" font-family="Liberation Sans, Arial, Helvetica, sans-serif" >1</text>
<text x="752.3" y="1006.3" font-size="25.4" text-anchor="end" fill="#000" stroke="#000" stroke-width="0.3" font-family="Liberation Sans, Arial, Helvetica, sans-serif" >groomed width (charged-only)</text>
<rect x="147.65" y="481.45" width="11.1" height="11.1" fill="#000"/>
<line x1="128.6" x2="174.8" y1="513.1" y2="513.1" stroke="#2f8c00" stroke-width="1.35" stroke-dasharray="4.3 4.0"/>
<rect x="148.05" y="507.95" width="10.1" height="10.1" fill="none" stroke="#2f8c00" stroke-width="1.7"/>
<line x1="128.6" x2="177.2" y1="539.3" y2="539.3" stroke="#0000ff" stroke-width="1.4"/>
<path d="M148.00 544.40L158.40 544.40L153.20 534.40Z" fill="#0000ff"/>
<text x="187.2" y="493.0" font-size="19" text-anchor="start" fill="#000" stroke="#000" stroke-width="0.3" font-family="Liberation Sans, Arial, Helvetica, sans-serif" >CMS</text>
<text x="186.7" y="518.5" font-size="19" text-anchor="start" fill="#000" stroke="#000" stroke-width="0.3" font-family="Liberation Sans, Arial, Helvetica, sans-serif" >Herwig 7.2.1 default</text>
<text x="186.7" y="544.5" font-size="19" text-anchor="start" fill="#000" stroke="#000" stroke-width="0.3" font-family="Liberation Sans, Arial, Helvetica, sans-serif" >Pythia 8.315 default</text>
<text x="415.7" y="604.2" font-size="15.9" text-anchor="middle" fill="#9a9a9a" stroke="#9a9a9a" stroke-width="0.3" font-family="Liberation Sans, Arial, Helvetica, sans-serif" >(CMS_2021_I1920187)</text>
<text transform="translate(760.2 254.7) rotate(-90)" font-size="19" text-anchor="start" fill="#808080" stroke="#808080" stroke-width="0.3" font-family="Liberation Sans, Arial, Helvetica, sans-serif" >Rivet 4.1.0, ≥ 100k events</text>
<text transform="translate(762.3 629.0) rotate(-90)" font-size="19" text-anchor="start" fill="#808080" stroke="#808080" stroke-width="0.3" font-family="Liberation Sans, Arial, Helvetica, sans-serif" >mcplots.cern.ch [arXiv:2401.10621]</text>
<text transform="translate(36.3 847.0) rotate(-90)" font-size="18.0" text-anchor="start" fill="#000" stroke="#000" stroke-width="0.3" font-family="Liberation Sans, Arial, Helvetica, sans-serif" >Ratio to CMS</text>
<text transform="translate(27.3 260.4) rotate(-90)" font-size="24.6" text-anchor="middle" fill="#000" stroke="#000" stroke-width="0.3" font-family="Liberation Sans, Arial, Helvetica, sans-serif" >#</text>
<line x1="21.1" x2="21.1" y1="141.4" y2="252.6" stroke="#000" stroke-width="2"/>
<text transform="translate(17.8 196.5) rotate(-90)" font-size="24.6" text-anchor="middle" fill="#000" stroke="#000" stroke-width="0.3" font-family="Liberation Sans, Arial, Helvetica, sans-serif" >1</text>
<text transform="translate(43.3 240.1) rotate(-90)" font-size="24.6" text-anchor="middle" fill="#000" stroke="#000" stroke-width="0.3" font-family="Liberation Sans, Arial, Helvetica, sans-serif" >d</text>
<text transform="translate(43.3 217.0) rotate(-90)" font-size="24.6" text-anchor="middle" fill="#000" stroke="#000" stroke-width="0.3" font-family="Liberation Sans, Arial, Helvetica, sans-serif" >N</text>
<text transform="translate(43.3 198.6) rotate(-90)" font-size="24.6" text-anchor="middle" fill="#000" stroke="#000" stroke-width="0.3" font-family="Liberation Sans, Arial, Helvetica, sans-serif" >/</text>
<text transform="translate(43.3 175.9) rotate(-90)" font-size="24.6" text-anchor="middle" fill="#000" stroke="#000" stroke-width="0.3" font-family="Liberation Sans, Arial, Helvetica, sans-serif" >d</text>
<text transform="translate(43.3 155.2) rotate(-90)" font-size="24.6" text-anchor="middle" fill="#000" stroke="#000" stroke-width="0.3" font-family="Liberation Sans, Arial, Helvetica, sans-serif" >p</text>
<text transform="translate(56.0 147.2) rotate(-90)" font-size="16.5" text-anchor="middle" fill="#000" stroke="#000" stroke-width="0.3" font-family="Liberation Sans, Arial, Helvetica, sans-serif" >T</text>
<text transform="translate(27.3 134.0) rotate(-90)" font-size="24.6" text-anchor="middle" fill="#000" stroke="#000" stroke-width="0.3" font-family="Liberation Sans, Arial, Helvetica, sans-serif" >#</text>
<line x1="21.1" x2="21.1" y1="35.3" y2="127.3" stroke="#000" stroke-width="2"/>
<text transform="translate(17.2 89.2) rotate(-90)" font-size="24.6" text-anchor="middle" fill="#000" stroke="#000" stroke-width="0.3" font-family="Liberation Sans, Arial, Helvetica, sans-serif" >d</text>
<text transform="translate(4.7 79.2) rotate(-90)" font-size="16" text-anchor="middle" fill="#000" stroke="#000" stroke-width="0.3" font-family="Liberation Sans, Arial, Helvetica, sans-serif" >2</text>
<text transform="translate(17.2 66.0) rotate(-90)" font-size="24.6" text-anchor="middle" fill="#000" stroke="#000" stroke-width="0.3" font-family="Liberation Sans, Arial, Helvetica, sans-serif" >N</text>
<text transform="translate(43.3 114.5) rotate(-90)" font-size="24.6" text-anchor="middle" fill="#000" stroke="#000" stroke-width="0.3" font-family="Liberation Sans, Arial, Helvetica, sans-serif" >d</text>
<text transform="translate(43.3 93.9) rotate(-90)" font-size="24.6" text-anchor="middle" fill="#000" stroke="#000" stroke-width="0.3" font-family="Liberation Sans, Arial, Helvetica, sans-serif" >p</text>
<text transform="translate(43.3 58.7) rotate(-90)" font-size="24.6" text-anchor="middle" fill="#000" stroke="#000" stroke-width="0.3" font-family="Liberation Sans, Arial, Helvetica, sans-serif" >d</text>
<text transform="translate(43.3 42.0) rotate(-90)" font-size="24.6" text-anchor="middle" fill="#000" stroke="#000" stroke-width="0.3" font-family="Liberation Sans, Arial, Helvetica, sans-serif" >λ</text>
<text transform="translate(56.0 84.2) rotate(-90)" font-size="16.5" text-anchor="middle" fill="#000" stroke="#000" stroke-width="0.3" font-family="Liberation Sans, Arial, Helvetica, sans-serif" >T</text>
</svg>
</body></html>
